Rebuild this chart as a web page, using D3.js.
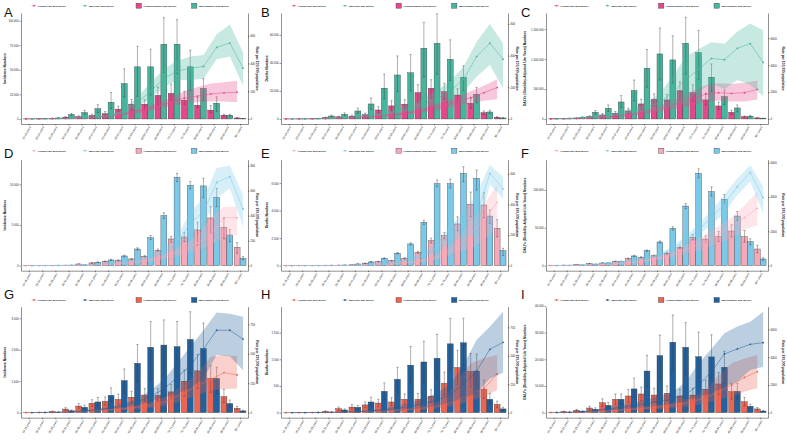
<!DOCTYPE html>
<html>
<head>
<meta charset="utf-8">
<title>Numbers and rates by age group and sex</title>
<script src="https://d3js.org/d3.v7.min.js"></script>
<style>
  body { margin: 0; background: white; }
  svg text { font-family: "Liberation Sans", Arial, sans-serif; fill: #222; }
  .axis path, .axis line { stroke: #222; stroke-width: 0.5; }
  .tick-lab { font-size: 2.8px; }
  .ax-title { font-size: 3.3px; font-weight: bold; }
  .legend text { font-size: 2.5px; font-weight: bold; }
  .letter { font-size: 13px; fill: #111; }
</style>
</head>
<body>
<svg id="chart"></svg>
<script>
var ages = ["15-19 years","20-24 years","25-29 years","30-34 years","35-39 years","40-44 years","45-49 years","50-54 years","55-59 years","60-64 years","65-69 years","70-74 years","75-79 years","80-84 years","85-89 years","90-94 years","95+ years"];

// numbers are [value, lower UI, upper UI]; rates are per 100,000

// A - incidence, region 1
var A_fNum = [[100,60,150],[300,200,420],[700,450,950],[1800,1200,2500],[2300,1500,3200],[3500,2200,4900],[5300,3300,7500],[10000,7400,13000],[15000,9000,19800],[15000,9500,19500],[24000,14500,32500],[26000,19000,35500],[19000,15000,28000],[14000,11500,22000],[9000,6000,13500],[3800,2800,4900],[1000,700,1400]];
var A_mNum = [[100,60,150],[400,250,550],[1000,650,1400],[4500,3200,5500],[6500,4800,8800],[10500,6500,14500],[17000,10500,27000],[36000,22500,51000],[53000,23000,74000],[53000,24000,71000],[76000,47000,103000],[76000,46000,101000],[53000,29000,70000],[31000,19000,41000],[16000,7500,22500],[3800,2000,4800],[300,150,450]];
var A_fRate = [0.3,0.7,1.5,3,5,9,16,28,45,65,95,120,150,165,180,188,193];
var A_fRateLo = [0.2,0.4,1,2,3.5,6,12,21,35,50,72,92,110,120,125,125,120];
var A_fRateHi = [0.5,1,2.2,4,7,12,21,36,57,82,120,150,200,230,255,265,275];
var A_mRate = [0.5,1.5,3,5,9,15,25,55,120,200,290,345,365,378,516,547,366];
var A_mRateLo = [0.3,1,2,3.5,6,10,18,40,85,150,230,280,280,290,430,450,240];
var A_mRateHi = [0.8,2.2,4.5,7,12,20,34,72,160,260,360,420,450,460,610,680,480];

// B - deaths, region 1
var B_fNum = [[20,10,30],[60,40,90],[150,100,220],[1000,700,1300],[1500,1000,2000],[2000,1300,2700],[3000,2000,4200],[6400,4200,8800],[9300,6000,13000],[10500,7000,13800],[18800,12000,24500],[21900,15000,28000],[19500,14000,25500],[17100,12000,21500],[11200,7500,14500],[4500,3200,5800],[1200,900,1600]];
var B_mNum = [[20,10,30],[80,50,120],[300,200,420],[2100,1500,2700],[3300,2400,4300],[5700,4000,7800],[10700,6800,15000],[22000,14500,32000],[31400,19500,45000],[33000,20000,46000],[50500,30000,69000],[54000,32000,75000],[42600,27500,56500],[29700,20000,38000],[17600,11500,22500],[5000,3600,6200],[700,450,950]];
var B_fRate = [0.2,0.5,1,2,4,7,11,17,25,35,48,65,85,110,135,166,198];
var B_fRateLo = [0.1,0.3,0.7,1.4,3,5,8,12,18,26,36,48,62,80,100,115,125];
var B_fRateHi = [0.3,0.7,1.4,2.7,5.5,9,14,22,33,45,62,85,112,140,175,210,250];
var B_mRate = [0.3,0.8,2,4,8,14,22,33,50,70,95,130,175,250,394,478,377];
var B_mRateLo = [0.2,0.5,1.4,3,6,10,16,24,36,50,68,92,120,170,267,341,194];
var B_mRateHi = [0.5,1.2,2.8,6,11,19,30,45,68,95,130,180,240,330,488,600,478];

// C - DALYs, region 1
var C_fNum = [[1000,600,1500],[5000,3200,7000],[15000,10000,21000],[39000,27000,52000],[67000,45000,90000],[95000,65000,125000],[134000,90000,180000],[251000,170000,330000],[329000,220000,420000],[318000,215000,410000],[474000,310000,620000],[440000,300000,570000],[318000,230000,430000],[217000,160000,280000],[111000,75000,145000],[39000,28000,50000],[17000,12000,22000]];
var C_mNum = [[3000,2000,4500],[8000,5000,11000],[28000,19000,38000],[111000,80000,140000],[178000,125000,235000],[284000,190000,390000],[474000,300000,650000],[847000,530000,1160000],[1087000,650000,1520000],[987000,600000,1390000],[1265000,750000,1700000],[1109000,660000,1480000],[697000,460000,920000],[373000,240000,480000],[184000,120000,235000],[45000,32000,58000],[11000,7500,14000]];
var C_fRate = [6,15,35,70,120,200,300,450,650,900,1200,1500,1850,1950,1900,1950,2200];
var C_fRateLo = [4,10,24,48,82,140,210,310,450,620,820,1000,1300,1350,1300,1300,1450];
var C_fRateHi = [9,21,48,95,165,270,400,600,870,1200,1600,2100,2500,2650,2600,2700,2850];
var C_mRate = [15,40,90,160,250,400,600,900,1200,2000,2900,3700,4500,4400,5250,5600,4200];
var C_mRateLo = [10,25,60,110,170,260,380,550,600,1000,1200,2000,2650,2200,2900,2550,1700];
var C_mRateHi = [22,60,130,230,350,560,850,1250,1900,3200,4600,5200,5700,5600,6500,7100,6600];

// D - incidence, region 2
var D_fNum = [[3,2,5],[8,6,11],[15,11,20],[30,22,40],[200,170,230],[330,290,370],[530,480,580],[650,590,710],[820,750,890],[1150,1060,1240],[1890,1750,2030],[3280,2870,3570],[3520,2950,4060],[4390,2540,5330],[5860,3980,7250],[4710,3300,5800],[2250,1520,2830]];
var D_mNum = [[5,3,8],[10,7,14],[20,15,27],[40,30,52],[80,65,100],[410,360,460],[700,630,780],[1190,1080,1300],[2050,1900,2200],[3440,3200,3700],[6150,5800,6500],[10860,10330,11350],[9880,9430,10330],[9800,8360,10740],[8400,7250,9510],[3770,2950,4420],[900,700,1110]];
var D_fRate = [0.2,0.4,0.8,1.5,3,6,10,16,25,40,60,90,130,180,251,384,384];
var D_fRateLo = [0.1,0.3,0.5,1,2,4,7,11,17,28,42,63,90,125,165,232,245];
var D_fRateHi = [0.3,0.6,1.1,2,4,8,13,21,33,52,78,117,170,240,380,472,472];
var D_mRate = [0.5,1,2,4,7,12,20,30,45,70,110,180,340,430,665,712,453];
var D_mRateLo = [0.3,0.7,1.5,3,5,9,15,23,35,55,85,140,245,325,539,619,312];
var D_mRateHi = [0.8,1.4,2.6,5.2,9,15,25,38,57,88,140,230,432,540,780,800,565];

// E - deaths, region 2
var E_fNum = [[1,0.5,2],[3,2,4],[6,4,8],[12,9,15],[30,24,36],[60,50,70],[170,150,190],[290,260,320],[360,330,390],[530,480,580],[970,900,1040],[1820,1650,2000],[2180,1950,2400],[3030,2550,3550],[4460,3550,5350],[4410,3500,5300],[2720,2100,3350]];
var E_mNum = [[2,1,3],[5,3,7],[10,7,13],[20,15,26],[40,32,48],[120,100,140],[270,240,300],[530,490,570],[900,850,950],[1580,1500,1660],[3150,3000,3300],[5960,5750,6230],[5960,5650,6300],[6710,6110,7200],[6350,5500,6960],[3610,3080,4050],[1090,730,1260]];
var E_fRate = [0.1,0.2,0.5,1,2,3,5,8,12,18,28,45,75,130,200,300,414];
var E_fRateLo = [0.05,0.1,0.3,0.7,1.4,2,3.5,6,9,13,20,32,52,90,110,170,244];
var E_fRateHi = [0.15,0.3,0.7,1.4,2.7,4,7,11,16,24,37,60,100,175,280,400,528];
var E_mRate = [0.1,0.3,0.6,1.2,2,4,7,12,22,40,70,120,200,260,330,604,502];
var E_mRateLo = [0.05,0.2,0.4,0.9,1.5,3,5,9,16,30,52,90,150,190,190,530,440];
var E_mRateHi = [0.15,0.4,0.8,1.6,2.7,5,9,16,28,52,90,155,260,340,470,660,580];

// F - DALYs, region 2
var F_fNum = [[200,150,250],[600,500,700],[1500,1300,1700],[2500,2200,2800],[3500,3100,3900],[5700,5200,6200],[9300,8600,10000],[11000,10200,11800],[13200,12300,14100],[16300,15000,17600],[24200,22500,26000],[37400,34000,41000],[35200,31000,39500],[38300,32000,45000],[45800,38000,54000],[38300,31000,46500],[22000,17000,27000]];
var F_mNum = [[100,80,120],[300,250,350],[800,700,900],[1800,1600,2000],[3500,3200,3800],[5700,5300,6100],[12800,12000,13600],[19800,18800,20800],[31300,30000,32700],[49300,47000,51500],[78800,75500,82000],[122000,116000,128000],[97800,92000,104000],[87700,82000,94000],[65600,59500,71500],[31700,27500,35500],[8800,7000,10500]];
var F_fRate = [3,8,18,35,65,110,170,260,380,550,800,1100,1400,1800,2300,2800,3340];
var F_fRateLo = [2,6,13,26,48,80,125,190,280,400,580,800,1000,1300,1600,2100,2350];
var F_fRateHi = [4,10,23,45,82,140,215,330,480,700,1020,1400,1800,2300,2800,3500,4300];
var F_mRate = [8,20,45,90,150,230,330,450,600,1000,1500,2100,2800,3600,4600,5430,3960];
var F_mRateLo = [6,16,38,76,128,195,280,380,510,850,1270,1780,2380,3060,4110,4890,3050];
var F_mRateHi = [10,24,52,104,172,265,380,520,690,1150,1730,2420,3220,4140,5080,5860,4600];

// G - incidence, region 3
var G_fNum = [[5,3,8],[10,6,15],[35,22,50],[115,75,160],[210,140,290],[300,200,410],[360,240,500],[420,270,590],[490,320,680],[560,360,770],[550,360,760],[660,430,900],[1000,520,1360],[1330,760,1850],[1090,650,1500],[510,330,740],[140,90,200]];
var G_mNum = [[1,0.5,2],[2,1,4],[10,6,15],[60,40,85],[170,110,240],[340,220,480],[550,360,790],[1020,615,1390],[1570,985,2170],[2080,1040,2895],[2150,1200,2950],[2100,1150,2900],[2330,1250,3210],[2040,1200,2850],[1090,600,1450],[290,170,400],[55,35,80]];
var G_fRate = [0.5,1,2,5,10,15,22,30,40,55,75,110,170,230,280,340,320];
var G_fRateLo = [0.3,0.6,1.2,3,6,10,14,19,26,36,48,70,110,150,190,200,205];
var G_fRateHi = [0.8,1.5,3,7,14,21,30,42,55,75,105,160,240,330,475,490,480];
var G_mRate = [1,2,4,8,15,25,40,60,90,140,200,300,400,540,700,700,625];
var G_mRateLo = [0.5,1,2.5,5,10,17,28,42,62,95,130,160,210,290,490,480,360];
var G_mRateHi = [1.5,3,6,11,20,33,53,80,120,190,280,420,560,700,850,840,815];

// H - deaths, region 3
var H_fNum = [[0.5,0.2,1],[2,1,3],[5,3,8],[25,15,35],[75,45,105],[105,65,150],[145,90,200],[180,110,250],[200,125,280],[250,155,350],[250,155,360],[310,195,430],[550,340,760],[845,530,1170],[775,480,1110],[440,270,610],[155,95,215]];
var H_mNum = [[0.5,0.2,1],[1,0.5,2],[3,2,5],[10,6,15],[50,30,70],[100,60,140],[200,120,290],[400,240,560],[625,380,850],[890,540,1240],[950,580,1340],[1020,620,1470],[1290,800,1770],[1310,820,1770],[780,480,1100],[250,150,360],[70,40,100]];
var H_fRate = [0.2,0.4,1,2,4,6,9,13,18,26,36,50,75,110,170,211,340];
var H_fRateLo = [0.1,0.2,0.5,1,2,3.5,5,8,11,16,22,30,45,65,110,140,200];
var H_fRateHi = [0.4,0.7,1.6,3.2,6,9,13,19,27,38,53,75,115,280,434,478,507];
var H_mRate = [0.3,0.7,1.5,3,6,10,16,25,38,55,80,110,160,250,366,557,618];
var H_mRateLo = [0.1,0.3,0.8,1.7,3.5,6,9,14,21,30,44,60,90,130,170,300,350];
var H_mRateHi = [0.6,1.2,2.5,5,9,15,24,38,58,85,125,175,250,420,640,756,888];

// I - DALYs, region 3
var I_fNum = [[100,60,150],[400,250,560],[900,560,1250],[1750,1100,2450],[3750,2300,5200],[5000,3100,7000],[6250,3900,8700],[7000,4400,9600],[6600,4100,9200],[7250,4500,10000],[6250,3900,8700],[6600,4100,9200],[8750,5500,12200],[10750,6800,15000],[7900,5000,11000],[4100,2600,5700],[1400,900,1950]];
var I_mNum = [[50,30,80],[150,90,220],[500,300,700],[1250,800,1800],[2750,1700,3800],[5000,3100,7000],[8900,5700,13000],[15600,9700,21500],[21400,12900,29100],[26400,15400,36600],[24500,14100,33750],[21000,13000,30200],[20900,13000,29200],[17000,11000,23000],[8000,5000,11000],[2400,1500,3200],[600,400,850]];
var I_fRate = [5,12,30,60,110,170,230,300,380,480,600,800,1100,1510,1990,2540,2950];
var I_fRateLo = [3,7,18,38,70,110,150,190,240,300,380,500,700,950,1150,1500,1750];
var I_fRateHi = [8,18,45,90,160,240,320,420,530,680,850,1150,1600,2700,3550,3900,4150];
var I_mRate = [10,30,80,150,250,380,500,650,800,1000,1300,2000,2950,4230,4590,4920,5040];
var I_mRateLo = [6,18,50,95,160,240,320,420,520,650,850,1150,1390,1870,2240,3070,3310];
var I_mRateHi = [15,45,120,220,360,560,720,950,1180,1500,2200,3550,4610,5720,6200,6550,7270];

var numTitles = ["Incidence Numbers", "Deaths Numbers", "DALYs (Disability-Adjusted Life Years) Numbers"];
var rateTitle = "Rate per 100,000 population";

// colours per row: female, male
var palettes = [
  {f: "#E5488A", m: "#47B59D"},
  {f: "#F7A9BA", m: "#7BC9E9"},
  {f: "#EC6553", m: "#22619D"}
];

function zip(v, lo, hi) {
  return v.map(function(d, i) { return [d, lo[i], hi[i]]; });
}

var panels = [
  {id: "A", row: 0, col: 0, f: A_fNum, m: A_mNum, fr: zip(A_fRate, A_fRateLo, A_fRateHi), mr: zip(A_mRate, A_mRateLo, A_mRateHi), yMax: 102650, rMax: 727, yTicks: [0, 25000, 50000, 75000, 100000], rTicks: [0, 200, 400, 600]},
  {id: "B", row: 0, col: 1, f: B_fNum, m: B_mNum, fr: zip(B_fRate, B_fRateLo, B_fRateHi), mr: zip(B_mRate, B_mRateLo, B_mRateHi), yMax: 72070, rMax: 637, yTicks: [0, 20000, 40000, 60000], rTicks: [0, 200, 400, 600]},
  {id: "C", row: 0, col: 2, f: C_fNum, m: C_mNum, fr: zip(C_fRate, C_fRateLo, C_fRateHi), mr: zip(C_mRate, C_mRateLo, C_mRateHi), yMax: 1687000, rMax: 7502, yTicks: [0, 500000, 1000000, 1500000], rTicks: [0, 2000, 4000, 6000]},
  {id: "D", row: 1, col: 0, f: D_fNum, m: D_mNum, fr: zip(D_fRate, D_fRateLo, D_fRateHi), mr: zip(D_mRate, D_mRateLo, D_mRateHi), yMax: 12405, rMax: 807, yTicks: [0, 5000, 10000], rTicks: [0, 200, 400, 600, 800]},
  {id: "E", row: 1, col: 1, f: E_fNum, m: E_mNum, fr: zip(E_fRate, E_fRateLo, E_fRateHi), mr: zip(E_mRate, E_mRateLo, E_mRateHi), yMax: 7338, rMax: 660, yTicks: [0, 2000, 4000, 6000], rTicks: [0, 200, 400, 600]},
  {id: "F", row: 1, col: 2, f: F_fNum, m: F_mNum, fr: zip(F_fRate, F_fRateLo, F_fRateHi), mr: zip(F_mRate, F_mRateLo, F_mRateHi), yMax: 133360, rMax: 5878, yTicks: [0, 50000, 100000], rTicks: [0, 2000, 4000, 6000]},
  {id: "G", row: 2, col: 0, f: G_fNum, m: G_mNum, fr: zip(G_fRate, G_fRateLo, G_fRateHi), mr: zip(G_mRate, G_mRateLo, G_mRateHi), yMax: 3210, rMax: 857, yTicks: [0, 1000, 2000, 3000], rTicks: [0, 250, 500, 750]},
  {id: "H", row: 2, col: 1, f: H_fNum, m: H_mNum, fr: zip(H_fRate, H_fRateLo, H_fRateHi), mr: zip(H_mRate, H_mRateLo, H_mRateHi), yMax: 1892, rMax: 887, yTicks: [0, 500, 1000, 1500], rTicks: [0, 250, 500, 750]},
  {id: "I", row: 2, col: 2, f: I_fNum, m: I_mNum, fr: zip(I_fRate, I_fRateLo, I_fRateHi), mr: zip(I_mRate, I_mRateLo, I_mRateHi), yMax: 37830, rMax: 7267, yTicks: [0, 10000, 20000, 30000, 40000], rTicks: [0, 2000, 4000, 6000]}
];

// layout of the 3x3 grid
var cols = [
  {l: 21, r: 248, letter: 4, lt: 4.5, rt: 257},
  {l: 281, r: 508, letter: 261, lt: 267, rt: 517},
  {l: 546, r: 768, letter: 521, lt: 525, rt: 783}
];
var rows = [
  {t: 13, b: 124, leg: 5.7, letter: 16.5},
  {t: 159.7, b: 270.7, leg: 150.7, letter: 158},
  {t: 306.7, b: 417.7, leg: 300, letter: 298.5}
];

var svg = d3.select("#chart").attr("width", 787).attr("height", 443);
svg.append("rect").attr("width", 787).attr("height", 443).attr("fill", "white");

var fmtNum = function(v) { return d3.format(",")(v).replace(/,/g, " "); };

panels.forEach(function(p) {
  var c = cols[p.col], rw = rows[p.row], pal = palettes[p.row];
  var g = svg.append("g");

  var x = d3.scalePoint().domain(ages).range([c.l, c.r]).padding(0.6);
  var step = x.step();
  var bw = 0.45 * step;
  var y = d3.scaleLinear().domain([-0.05 * p.yMax, 1.05 * p.yMax]).range([rw.b, rw.t]);
  var y2 = d3.scaleLinear().domain([-0.05 * p.rMax, 1.05 * p.rMax]).range([rw.b, rw.t]);

  var series = [
    {num: p.f, rate: p.fr, col: pal.f, off: -0.225 * step},
    {num: p.m, rate: p.mr, col: pal.m, off: 0.225 * step}
  ];

  // bars
  series.forEach(function(s) {
    g.append("g").selectAll("rect")
      .data(s.num)
      .enter().append("rect")
      .attr("x", function(d, i) { return x(ages[i]) + s.off - bw / 2; })
      .attr("y", function(d) { return y(d[0]); })
      .attr("width", bw)
      .attr("height", function(d) { return y(0) - y(d[0]); })
      .attr("fill", s.col)
      .attr("stroke", "#333")
      .attr("stroke-width", 0.35);
  });

  // error bars
  series.forEach(function(s) {
    var eb = g.append("g").attr("stroke", "#3a3a3a").attr("stroke-opacity", 0.75).attr("stroke-width", 0.55);
    s.num.forEach(function(d, i) {
      var cx = x(ages[i]) + s.off;
      eb.append("line").attr("x1", cx).attr("x2", cx).attr("y1", y(d[1])).attr("y2", y(d[2]));
      eb.append("line").attr("x1", cx - 1.1).attr("x2", cx + 1.1).attr("y1", y(d[1])).attr("y2", y(d[1]));
      eb.append("line").attr("x1", cx - 1.1).attr("x2", cx + 1.1).attr("y1", y(d[2])).attr("y2", y(d[2]));
    });
  });

  // rate ribbons, lines and points
  series.forEach(function(s) {
    var px = function(d, i) { return x(ages[i]) + s.off; };
    var area = d3.area().x(px).y0(function(d) { return y2(d[1]); }).y1(function(d) { return y2(d[2]); });
    var line = d3.line().x(px).y(function(d) { return y2(d[0]); });
    g.append("path").datum(s.rate).attr("d", area).attr("fill", s.col).attr("fill-opacity", 0.3);
    g.append("path").datum(s.rate).attr("d", line).attr("fill", "none").attr("stroke", s.col).attr("stroke-width", 0.5);
    g.append("g").selectAll("circle")
      .data(s.rate)
      .enter().append("circle")
      .attr("cx", px)
      .attr("cy", function(d) { return y2(d[0]); })
      .attr("r", 0.9)
      .attr("fill", s.col);
  });

  // axes
  var ax = g.append("g").attr("class", "axis").attr("transform", "translate(" + c.l + ",0)")
    .call(d3.axisLeft(y).tickValues(p.yTicks).tickFormat(fmtNum).tickSize(1.5).tickSizeOuter(0).tickPadding(1));
  ax.selectAll("text").attr("class", "tick-lab");
  var ax2 = g.append("g").attr("class", "axis").attr("transform", "translate(" + c.r + ",0)")
    .call(d3.axisRight(y2).tickValues(p.rTicks).tickFormat(d3.format("d")).tickSize(1.5).tickSizeOuter(0).tickPadding(1));
  ax2.selectAll("text").attr("class", "tick-lab");
  var axb = g.append("g").attr("class", "axis").attr("transform", "translate(0," + rw.b + ")")
    .call(d3.axisBottom(x).tickSize(1.5).tickSizeOuter(0).tickPadding(1));
  axb.selectAll("text")
    .attr("class", "tick-lab")
    .attr("x", 0).attr("y", 0).attr("dy", "0.35em")
    .attr("text-anchor", "end")
    .attr("transform", "translate(0.8,2.6) rotate(-60)");
  [ax, ax2, axb].forEach(function(a) { a.selectAll("text").attr("fill", "#1a1a1a").attr("stroke", "none"); });

  // axis titles
  var midY = (rw.t + rw.b) / 2;
  g.append("text").attr("class", "ax-title")
    .attr("transform", "translate(" + c.lt + "," + midY + ") rotate(-90)")
    .attr("text-anchor", "middle").attr("dy", "0.35em")
    .text(numTitles[p.col]);
  g.append("text").attr("class", "ax-title")
    .attr("transform", "translate(" + c.rt + "," + midY + ") rotate(90)")
    .attr("text-anchor", "middle").attr("dy", "0.35em")
    .text(rateTitle);

  // panel letter
  g.append("text").attr("class", "letter").attr("x", c.letter).attr("y", rw.letter).text(p.id);

  // legend
  var cx = (c.l + c.r) / 2;
  var lg = g.append("g").attr("class", "legend").attr("transform", "translate(" + cx + "," + rw.leg + ")");
  [{dx: -100.5, col: pal.f, lab: "Female(rate and 95%UI)"}, {dx: -49.5, col: pal.m, lab: "Male(rate and 95%UI)"}].forEach(function(it) {
    lg.append("line").attr("x1", it.dx - 2.4).attr("x2", it.dx + 2.4).attr("y1", 0).attr("y2", 0).attr("stroke", it.col).attr("stroke-width", 0.5);
    lg.append("circle").attr("cx", it.dx).attr("cy", 0).attr("r", 0.9).attr("fill", it.col);
    lg.append("text").attr("x", it.dx + 4).attr("y", 0).attr("dy", "0.35em").text(it.lab);
  });
  [{dx: 1.5, col: pal.f, lab: "Female(number and 95%UI)"}, {dx: 57, col: pal.m, lab: "Male(number and 95%UI)"}].forEach(function(it) {
    lg.append("rect").attr("x", it.dx).attr("y", -2.5).attr("width", 5.4).attr("height", 5)
      .attr("fill", it.col).attr("stroke", "#333").attr("stroke-width", 0.35);
    lg.append("text").attr("x", it.dx + 7.5).attr("y", 0).attr("dy", "0.35em").text(it.lab);
  });
});
</script>
</body>
</html>
